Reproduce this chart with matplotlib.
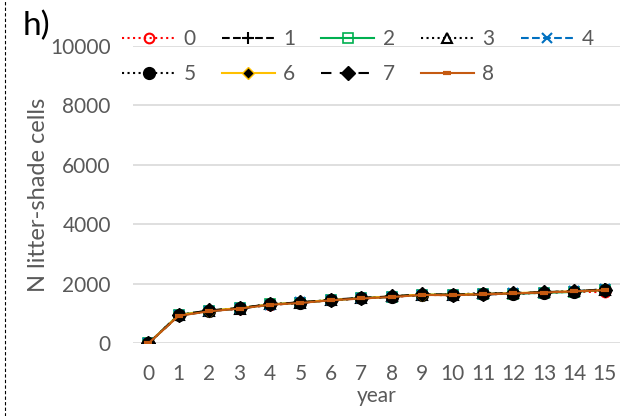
import numpy as np
import matplotlib.pyplot as plt
from matplotlib.lines import Line2D

plt.rcParams['font.family'] = ['Lato', 'DejaVu Sans']

years = list(range(16))
labels = ['0', '1', '2', '3', '4', '5', '6', '7', '8']

s0 = [0, 950, 1090, 1170, 1300, 1360, 1450, 1510, 1560, 1630, 1620, 1650, 1670, 1700, 1740, 1720]
s1 = [0, 940, 1080, 1180, 1290, 1370, 1460, 1510, 1570, 1630, 1640, 1640, 1680, 1710, 1750, 1820]
s2 = [0, 960, 1100, 1180, 1310, 1370, 1450, 1520, 1570, 1640, 1630, 1660, 1670, 1700, 1730, 1800]
s3 = [0, 950, 1100, 1170, 1330, 1370, 1460, 1520, 1580, 1640, 1630, 1700, 1680, 1720, 1760, 1780]
s4 = [0, 950, 1090, 1180, 1300, 1380, 1460, 1520, 1570, 1640, 1630, 1650, 1680, 1710, 1750, 1820]
s5 = [0, 955, 1100, 1180, 1310, 1370, 1460, 1517, 1572, 1640, 1630, 1650, 1675, 1710, 1740, 1810]
s6 = [0, 950, 1100, 1190, 1310, 1380, 1460, 1520, 1580, 1640, 1640, 1660, 1690, 1720, 1750, 1800]
s7 = [0, 955, 1110, 1190, 1320, 1380, 1470, 1530, 1580, 1650, 1640, 1660, 1700, 1720, 1760, 1810]
s8 = [0, 930, 1080, 1170, 1300, 1360, 1450, 1510, 1560, 1630, 1620, 1650, 1680, 1710, 1750, 1790]
series = [s0, s1, s2, s3, s4, s5, s6, s7, s8]

styles = [
    dict(color='#ff0000', ls=':', marker='o', mfc='none', mec='#ff0000', ms=7, mew=1.5),
    dict(color='black', ls='--', marker='+', ms=9, mew=1.5),
    dict(color='#00b050', ls='-', marker='s', mfc='none', mec='#00b050', ms=7, mew=1.2),
    dict(color='black', ls=':', marker='^', mfc='none', mec='black', ms=7, mew=1.5),
    dict(color='#0070c0', ls='--', marker='x', mec='#0070c0', ms=7, mew=1.5),
    dict(color='black', ls=':', marker='o', mfc='black', mec='black', ms=8.5),
    dict(color='#ffc000', ls='-', marker='D', mfc='black', mec='#ffc000', ms=6, mew=1),
    dict(color='black', ls=(0, (5, 4)), marker='D', mfc='black', mec='black', ms=7),
    dict(color='#c55a11', ls='-', marker='_', mec='#c55a11', ms=6, mew=3),
]

fig = plt.figure(figsize=(6.29, 4.16), dpi=100)
ax = fig.add_axes([0.2115, 0.1743, 0.7742, 0.7163])

handles = []
for vals, lab, st in zip(series, labels, styles):
    h, = ax.plot(years, vals, lw=1.5, label=lab, **st)
    handles.append(h)

ax.set_ylim(0, 10000)
ax.set_xlim(-0.5, 15.5)
ax.set_yticks(range(0, 10001, 2000))
ax.set_xticks(years)
ax.yaxis.grid(True, color='#d9d9d9', lw=1.2)
ax.set_axisbelow(True)
for sp in ax.spines.values():
    sp.set_visible(False)
ax.tick_params(length=0, labelsize=15, labelcolor='#595959')
ax.tick_params(axis='x', pad=15)
ax.tick_params(axis='y', pad=16)
ax.set_xlabel('year', fontsize=15, color='#595959', labelpad=1)
ax.set_ylabel('N litter-shade cells', fontsize=17, color='#595959', labelpad=1)

# legend fills column-wise, so interleave to read 0-4 on the first row
order = [0, 5, 1, 6, 2, 7, 3, 8, 4]
ax.legend([handles[i] for i in order], [labels[i] for i in order],
          ncol=5, loc='upper left', bbox_to_anchor=(122 / 629, 1 - 29 / 416),
          bbox_transform=fig.transFigure, frameon=False, fontsize=15,
          labelcolor='#595959', handlelength=2.55, columnspacing=1.25,
          handletextpad=0.4, labelspacing=0.72, borderpad=0, borderaxespad=0)

fig.text(23 / 629, 1 - 35 / 416, 'h)', fontsize=24, color='black')
fig.add_artist(Line2D([0.008, 0.008], [0, 1], transform=fig.transFigure,
                      color='black', lw=0.8, ls=(0, (3, 2))))

fig.savefig('out.png', dpi=100)
